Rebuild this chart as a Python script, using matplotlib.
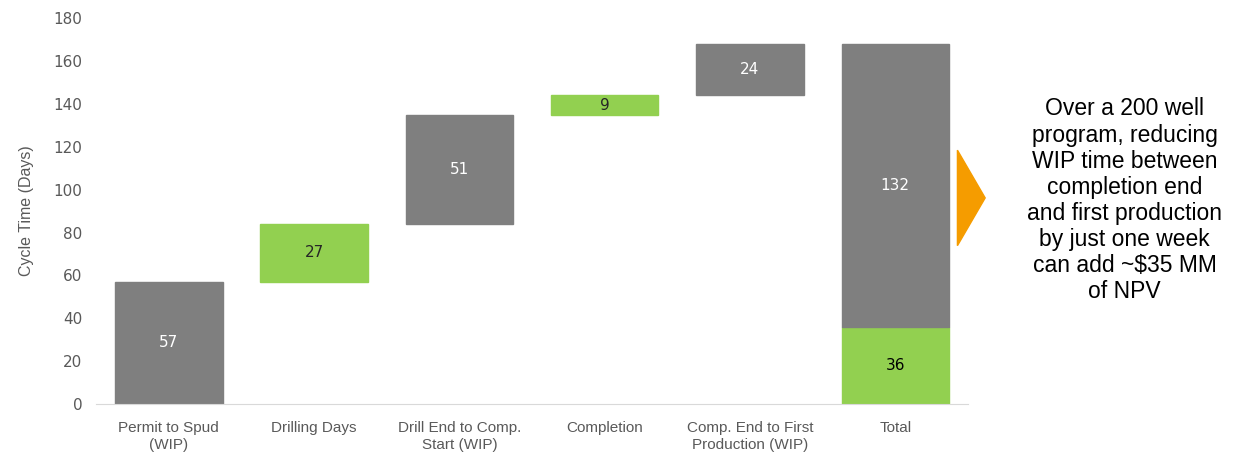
import matplotlib.pyplot as plt
from matplotlib.patches import Polygon

categories = ["Permit to Spud\n(WIP)", "Drilling Days", "Drill End to Comp.\nStart (WIP)",
              "Completion", "Comp. End to First\nProduction (WIP)", "Total"]
steps = [57, 27, 51, 9, 24]
step_kind = ["wip", "work", "wip", "work", "wip"]
total_work = 36
total_wip = 132
yticks = [0, 20, 40, 60, 80, 100, 120, 140, 160, 180]
note = ("Over a 200 well\nprogram, reducing\nWIP time between\ncompletion end\n"
        "and first production\nby just one week\ncan add ~$35 MM\nof NPV")

GREY = "#7f7f7f"
GREEN = "#92d050"
ORANGE = "#f59c00"

fig = plt.figure(figsize=(12.33, 4.55), dpi=100)
ax = fig.add_axes([0.078, 0.112, 0.707, 0.848])

x = list(range(len(categories)))
bottoms = []
run = 0
for v in steps:
    bottoms.append(run)
    run += v

w = 0.74
for i, (v, b, k) in enumerate(zip(steps, bottoms, step_kind)):
    col = GREY if k == "wip" else GREEN
    ax.bar(x[i], v, bottom=b, width=w, color=col, edgecolor=col)
    ax.text(x[i], b + v / 2, str(v), ha="center", va="center", fontsize=11,
            color="white" if k == "wip" else "#262626", family="DejaVu Sans")

ax.bar(x[5], total_work, width=w, color=GREEN, edgecolor=GREEN)
ax.bar(x[5], total_wip, bottom=total_work, width=w, color=GREY, edgecolor=GREY)
ax.text(x[5], total_work / 2, str(total_work), ha="center", va="center",
        fontsize=11, color="black", family="DejaVu Sans")
ax.text(x[5], total_work + total_wip / 2, str(total_wip), ha="center", va="center",
        fontsize=11, color="white", family="DejaVu Sans")

ax.set_xlim(-0.5, len(categories) - 0.5)
ax.set_ylim(0, 180)
ax.set_yticks(yticks)
ax.set_xticks(x)
ax.set_xticklabels(categories, fontsize=11, color="#595959",
                   family=["Liberation Sans Narrow", "Liberation Sans"], linespacing=1.3)
ax.tick_params(axis="y", labelsize=11, labelcolor="#595959", length=0, pad=10)
ax.tick_params(axis="x", length=0, pad=12)
ax.set_ylabel("Cycle Time (Days)", fontsize=11.5, color="#595959", labelpad=14,
              family="Liberation Sans")
for s in ["top", "right", "left"]:
    ax.spines[s].set_visible(False)
ax.spines["bottom"].set_color("#d9d9d9")

tri = Polygon([[0.7765, 0.67], [0.7765, 0.46], [0.799, 0.565]], closed=True,
              transform=fig.transFigure, color=ORANGE)
fig.patches.append(tri)

fig.text(0.912, 0.56, note, ha="center", va="center", fontsize=16.5,
         family="Liberation Sans", linespacing=1.17, color="black")

fig.savefig("out.png", dpi=100)
